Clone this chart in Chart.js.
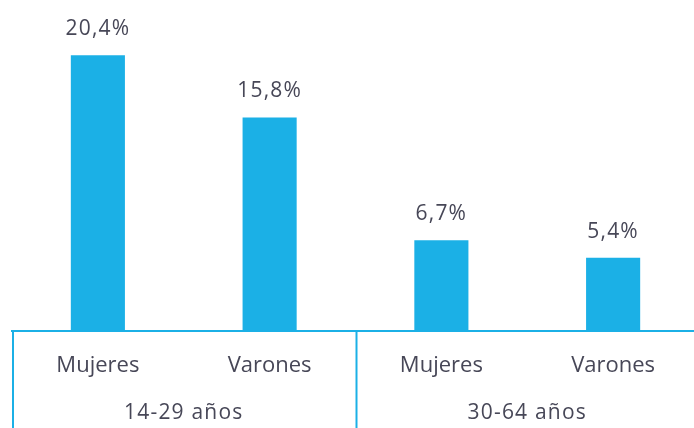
<!DOCTYPE html>
<html>
<head>
<meta charset="utf-8">
<script src="https://cdn.jsdelivr.net/npm/chart.js@4.4.1/dist/chart.umd.min.js"></script>
<style>
html,body{margin:0;padding:0;background:#fff;overflow:hidden;}
#wrap{width:699px;height:428px;position:relative;}
</style>
</head>
<body>
<div id="wrap"><canvas id="c"></canvas></div>
<script>
const categories = ['Mujeres', 'Varones', 'Mujeres', 'Varones'];
const values = [20.4, 15.8, 6.7, 5.4];
const valueLabels = ['20,4%', '15,8%', '6,7%', '5,4%'];
const groups = ['14-29 años', '30-64 años'];
const groupSizes = [2, 2];

const BLUE = '#1bb0e6';
const TEXT = '#474757';
const FONT = "'Open Sans', sans-serif";

const overlay = {
  id: 'overlay',
  afterDatasetsDraw(chart) {
    const ctx = chart.ctx;
    const x = chart.scales.x;
    const area = chart.chartArea;
    const meta = chart.getDatasetMeta(0);
    ctx.save();
    ctx.fillStyle = TEXT;
    ctx.font = "21px " + FONT;
    ctx.textAlign = 'center';
    ctx.textBaseline = 'alphabetic';
    try { ctx.letterSpacing = '1.2px'; } catch(e) {}
    meta.data.forEach((bar, i) => {
      ctx.fillText(valueLabels[i], bar.x, bar.y - 20);
    });
    // group separators and labels
    const step = x.getPixelForValue(1) - x.getPixelForValue(0);
    ctx.strokeStyle = BLUE;
    ctx.lineWidth = 2;
    let idx = 0;
    groups.forEach((g, gi) => {
      const left = x.getPixelForValue(idx) - step / 2;
      const right = x.getPixelForValue(idx + groupSizes[gi] - 1) + step / 2;
      ctx.beginPath();
      ctx.moveTo(left + 1, area.bottom);
      ctx.lineTo(left + 1, chart.height);
      ctx.stroke();
      ctx.fillText(g, (left + right) / 2, 419);
      idx += groupSizes[gi];
    });
    ctx.restore();
  }
};

new Chart(document.getElementById('c'), {
  type: 'bar',
  data: {
    labels: categories,
    datasets: [{
      data: values,
      backgroundColor: BLUE,
      borderWidth: 0,
      barPercentage: 0.315,
      categoryPercentage: 1.0
    }]
  },
  options: {
    responsive: true,
    maintainAspectRatio: false,
    animation: false,
    events: [],
    layout: { padding: { left: 12, right: 0, top: 0, bottom: 27 } },
    plugins: { legend: { display: false }, tooltip: { enabled: false } },
    scales: {
      x: {
        grid: { display: false, drawTicks: false },
        border: { display: true, color: BLUE, width: 2 },
        ticks: { color: TEXT, font: { family: FONT, size: 22 }, padding: 22 }
      },
      y: {
        display: false,
        min: 0,
        max: 24.5
      }
    }
  },
  plugins: [overlay]
});
</script>
</body>
</html>
